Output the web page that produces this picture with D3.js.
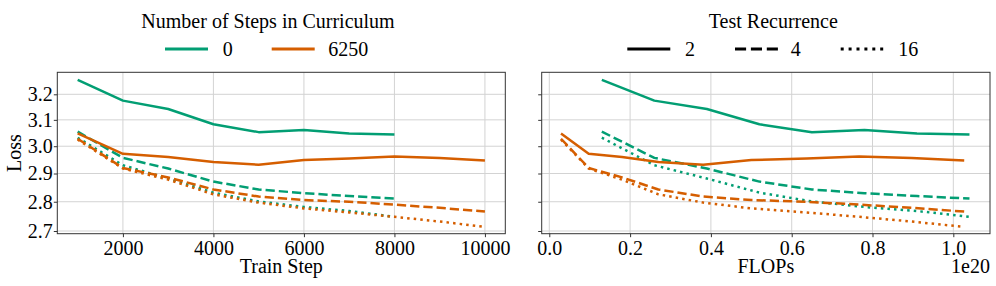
<!DOCTYPE html>
<html>
<head>
<meta charset="utf-8">
<script src="https://cdn.jsdelivr.net/npm/d3@7"></script>
<style>
  body { margin: 0; background: #fff; }
</style>
</head>
<body>
<div id="chart"></div>
<script>
// training steps per curriculum setting
const steps0    = [1000, 2000, 3000, 4000, 5000, 6000, 7000, 8000];
const steps6250 = [1000, 2000, 3000, 4000, 5000, 6000, 7000, 8000, 9000, 10000];
// FLOPs (x 1e20)
const flops0    = [0.13, 0.26, 0.39, 0.52, 0.65, 0.78, 0.91, 1.04];
const flops6250 = [0.029, 0.0975, 0.18, 0.27, 0.381, 0.50, 0.637, 0.767, 0.897, 1.027];
// loss at test recurrence 2 / 4 / 16
const loss0_r2     = [3.258, 3.175, 3.142, 3.083, 3.053, 3.061, 3.048, 3.044];
const loss0_r4     = [3.055, 2.957, 2.918, 2.871, 2.843, 2.830, 2.820, 2.811];
const loss0_r16    = [3.032, 2.930, 2.882, 2.832, 2.801, 2.782, 2.768, 2.748];
const loss6250_r2  = [3.048, 2.972, 2.960, 2.942, 2.932, 2.949, 2.955, 2.962, 2.956, 2.947];
const loss6250_r4  = [3.028, 2.920, 2.886, 2.843, 2.818, 2.806, 2.800, 2.790, 2.779, 2.766];
const loss6250_r16 = [3.025, 2.918, 2.878, 2.826, 2.797, 2.777, 2.763, 2.748, 2.732, 2.714];

const curricula = ["0", "6250"];
const recurrences = ["2", "4", "16"];
const yTicks = [2.7, 2.8, 2.9, 3.0, 3.1, 3.2];
const xTicksSteps = [2000, 4000, 6000, 8000, 10000];
const xTicksFlops = [0.0, 0.2, 0.4, 0.6, 0.8, 1.0];

const COLORS = { "0": "#029E73", "6250": "#D55E00" };
const LW = 2.5;
const DASH = { "2": null, "4": "9.25,4", "16": "2.5,4.1" };
const FONT = '"Liberation Serif", "Times New Roman", serif';

const series = [
  { cur: "0",    rec: "2",  steps: steps0,    flops: flops0,    loss: loss0_r2 },
  { cur: "0",    rec: "4",  steps: steps0,    flops: flops0,    loss: loss0_r4 },
  { cur: "0",    rec: "16", steps: steps0,    flops: flops0,    loss: loss0_r16 },
  { cur: "6250", rec: "2",  steps: steps6250, flops: flops6250, loss: loss6250_r2 },
  { cur: "6250", rec: "4",  steps: steps6250, flops: flops6250, loss: loss6250_r4 },
  { cur: "6250", rec: "16", steps: steps6250, flops: flops6250, loss: loss6250_r16 },
];

const W = 996, H = 286;
const axTop = 72.3, axBottom = 233.7;
const FS = 20;

const svg = d3.select("#chart").append("svg")
  .attr("width", W).attr("height", H)
  .attr("viewBox", `0 0 ${W} ${H}`);

const y = d3.scaleLog().domain([2.691, 3.2887]).range([axBottom, axTop]);

function addText(x, yy, str, anchor) {
  return svg.append("text")
    .attr("x", x).attr("y", yy)
    .attr("text-anchor", anchor || "start")
    .style("font-family", FONT)
    .style("font-size", `${FS}px`)
    .attr("fill", "#000")
    .text(str);
}

function panel(x0, x1, xDomain, xTicks, xFmt, key, showYLabels, xLabel) {
  const x = d3.scaleLinear().domain(xDomain).range([x0, x1]);
  const g = svg.append("g");

  // grid
  g.selectAll(".gx").data(xTicks).join("line")
    .attr("x1", d => x(d)).attr("x2", d => x(d))
    .attr("y1", axTop).attr("y2", axBottom)
    .attr("stroke", "#d3d3d3").attr("stroke-width", 1);
  g.selectAll(".gy").data(yTicks).join("line")
    .attr("x1", x0).attr("x2", x1)
    .attr("y1", d => y(d)).attr("y2", d => y(d))
    .attr("stroke", "#d3d3d3").attr("stroke-width", 1);

  const line = d3.line()
    .x(d => x(d[0]))
    .y(d => y(d[1]));

  series.forEach(s => {
    const pts = s[key].map((v, i) => [v, s.loss[i]]);
    g.append("path")
      .attr("d", line(pts))
      .attr("fill", "none")
      .attr("stroke", COLORS[s.cur])
      .attr("stroke-width", LW)
      .attr("stroke-dasharray", DASH[s.rec])
      .attr("stroke-linejoin", "round");
  });

  // spines
  g.append("rect")
    .attr("x", x0).attr("y", axTop)
    .attr("width", x1 - x0).attr("height", axBottom - axTop)
    .attr("fill", "none").attr("stroke", "#333").attr("stroke-width", 1);

  const xAxis = g.append("g")
    .attr("transform", `translate(0,${axBottom})`)
    .call(d3.axisBottom(x).tickValues(xTicks).tickFormat(xFmt).tickSize(3.5).tickPadding(4));
  xAxis.select(".domain").remove();
  xAxis.selectAll("line").attr("stroke", "#333");
  xAxis.selectAll("text").style("font-size", `${FS}px`).style("font-family", FONT).attr("fill", "#000");

  const yAxis = g.append("g")
    .attr("transform", `translate(${x0},0)`)
    .call(d3.axisLeft(y).tickValues(yTicks).tickFormat(showYLabels ? d3.format(".1f") : () => "")
      .tickSize(3.5).tickPadding(1));
  yAxis.select(".domain").remove();
  yAxis.selectAll("line").attr("stroke", "#333");
  yAxis.selectAll("text").style("font-size", `${FS}px`).style("font-family", FONT).attr("fill", "#000");

  addText((x0 + x1) / 2, 273, xLabel, "middle");
  return x;
}

panel(57.3, 505.3, [550, 10450], xTicksSteps, d3.format("d"), "steps", true, "Train Step");
panel(541.7, 990, [-0.0188, 1.0908], xTicksFlops, d3.format(".1f"), "flops", false, "FLOPs");

addText(990, 273, "1e20", "end");
addText(0, 0, "Loss", "middle").attr("transform", "translate(21,153) rotate(-90)");

// legends
const legY = 49;
addText(268, 28, "Number of Steps in Curriculum", "middle");
const curLeg = [{ x: 165, lab: 222.7 }, { x: 271.7, lab: 328.3 }];
curricula.forEach((c, i) => {
  svg.append("line")
    .attr("x1", curLeg[i].x).attr("x2", curLeg[i].x + 43)
    .attr("y1", legY).attr("y2", legY)
    .attr("stroke", COLORS[c]).attr("stroke-width", 3);
  addText(curLeg[i].lab, legY + 7, c);
});

addText(773.3, 28, "Test Recurrence", "middle");
const recLeg = [{ x: 627.3, lab: 685 }, { x: 735, lab: 790.7 }, { x: 840.7, lab: 898.3 }];
const LEG_DASH = { "2": null, "4": "11.1,4.8", "16": "3,4.9" };
recurrences.forEach((r, i) => {
  svg.append("line")
    .attr("x1", recLeg[i].x).attr("x2", recLeg[i].x + 43)
    .attr("y1", legY).attr("y2", legY)
    .attr("stroke", "#000").attr("stroke-width", 3)
    .attr("stroke-dasharray", LEG_DASH[r]);
  addText(recLeg[i].lab, legY + 7, r);
});
</script>
</body>
</html>
